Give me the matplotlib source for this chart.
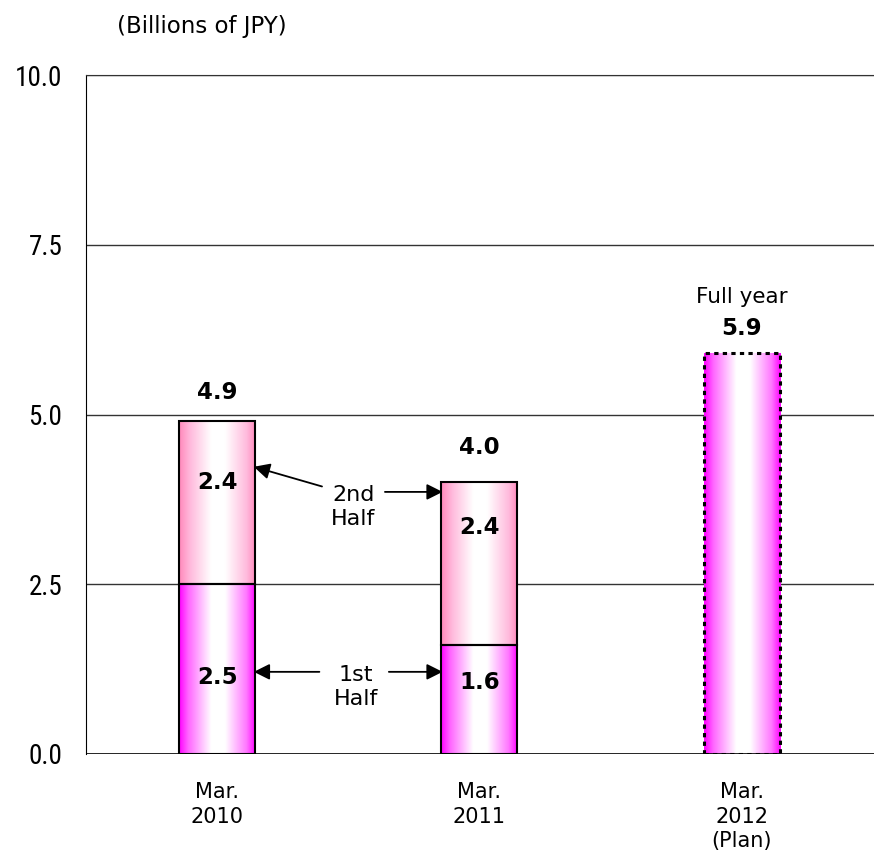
import numpy as np
import matplotlib.pyplot as plt
from matplotlib import font_manager
from matplotlib.colors import LinearSegmentedColormap

periods = ['Mar.\n2010', 'Mar.\n2011', 'Mar.\n2012\n(Plan)']
first_half = [2.5, 1.6]
second_half = [2.4, 2.4]
totals = [4.9, 4.0]
plan_full_year = 5.9
yticks = [0.0, 2.5, 5.0, 7.5, 10.0]

# label heights (data units) used for placing the value texts
first_label_y = [1.12, 1.05]
second_label_y = [4.0, 3.33]
total_label_y = [5.32, 4.51, 6.27]

# pick a narrow face for the y tick labels if one is available
names = {f.name for f in font_manager.fontManager.ttflist}
narrow = [n for n in ['Liberation Sans Narrow', 'Roboto Condensed', 'DejaVu Sans Condensed',
                      'Open Sans Condensed', 'Noto Sans Condensed'] if n in names]
narrow_font = dict(family=narrow[0]) if narrow else dict(family='DejaVu Sans', fontstretch='condensed')

fig = plt.figure(figsize=(8.74, 8.59), dpi=100)
ax = fig.add_axes([86 / 874, 105 / 859, 1 - 86 / 874, 679 / 859])

x = np.arange(len(periods))
w = 0.29

magenta = LinearSegmentedColormap.from_list(
    'mg', [(0, '#ff00ff'), (0.12, '#ff66ff'), (0.42, '#ffffff'),
           (0.6, '#ffffff'), (0.88, '#ff77ff'), (1, '#ff00ff')])
pink = LinearSegmentedColormap.from_list(
    'pk', [(0, '#ff88bb'), (0.15, '#ffbbdd'), (0.42, '#ffffff'),
           (0.6, '#ffffff'), (0.88, '#ffbbdd'), (1, '#ff88bb')])
grad = np.linspace(0, 1, 256).reshape(1, -1)


def fill_gradient(bars, cmap):
    for b in bars:
        x0, y0 = b.get_x(), b.get_y()
        im = ax.imshow(grad, cmap=cmap, aspect='auto', zorder=2,
                       extent=[x0, x0 + b.get_width(), y0, y0 + b.get_height()])
        im.set_clip_path(b)


b1 = ax.bar(x[:2], first_half, w, facecolor='none', edgecolor='black', lw=1.5, zorder=3)
b2 = ax.bar(x[:2], second_half, w, bottom=first_half, facecolor='none',
            edgecolor='black', lw=1.5, zorder=3)
b3 = ax.bar(x[2:], [plan_full_year], w, facecolor='none', edgecolor='black',
            lw=2.2, linestyle=(0, (1.4, 1.4)), zorder=3)
fill_gradient(b1, magenta)
fill_gradient(b2, pink)
fill_gradient(b3, magenta)

ax.set_xlim(-0.5, 2.505)
ax.set_ylim(0, 10)
ax.set_yticks(yticks)
ax.set_yticklabels([f'{v:.1f}' for v in yticks], fontsize=19.5, **narrow_font)
ax.set_xticks(x)
ax.set_xticklabels(periods, fontsize=15, linespacing=1.3)
ax.tick_params(axis='y', length=0, pad=17)
ax.tick_params(axis='x', length=0, pad=20)
for v in yticks[1:]:
    ax.axhline(v, color='#333333', lw=1, zorder=1)
for s in ['right', 'bottom']:
    ax.spines[s].set_visible(False)
ax.spines['top'].set_color('#333333')
ax.axhline(0, color='black', lw=1.2, zorder=4)

bold = dict(ha='center', va='center', fontsize=16.5, fontweight='bold')
for i in range(len(first_half)):
    ax.text(x[i], first_label_y[i], f'{first_half[i]:.1f}', zorder=5, **bold)
    ax.text(x[i], second_label_y[i], f'{second_half[i]:.1f}', zorder=5, **bold)
    ax.text(x[i], total_label_y[i], f'{totals[i]:.1f}', **bold)
ax.text(x[2], total_label_y[2], f'{plan_full_year:.1f}', **bold)
ax.text(x[2], total_label_y[2] + 0.46, 'Full year', ha='center', va='center', fontsize=15.5)

ax.text(0.52, 3.64, '2nd\nHalf', ha='center', va='center', fontsize=16, linespacing=1.28)
ax.text(0.53, 0.99, '1st\nHalf', ha='center', va='center', fontsize=16, linespacing=1.28)
arrow = dict(arrowstyle='-|>', color='black', lw=1.3, mutation_scale=24, shrinkA=0, shrinkB=0)
ax.annotate('', xy=(0.14, 4.23), xytext=(0.40, 3.94), arrowprops=arrow)
ax.annotate('', xy=(0.86, 3.86), xytext=(0.64, 3.86), arrowprops=arrow)
ax.annotate('', xy=(0.14, 1.21), xytext=(0.39, 1.21), arrowprops=arrow)
ax.annotate('', xy=(0.86, 1.21), xytext=(0.655, 1.21), arrowprops=arrow)

fig.text(117 / 874, 1 - 27 / 859, '(Billions of JPY)', ha='left', va='center', fontsize=16.5)

fig.savefig('out.png', dpi=100)
